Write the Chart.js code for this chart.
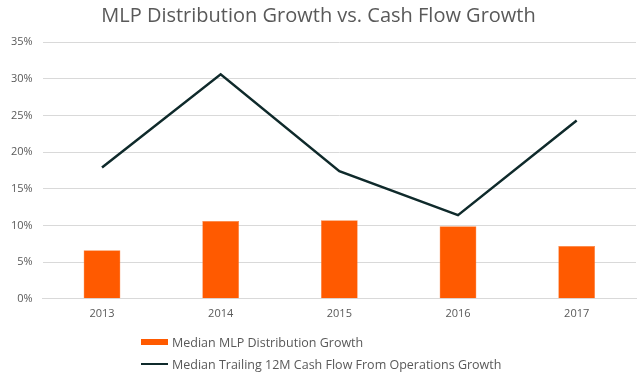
<!DOCTYPE html>
<html>
<head>
<meta charset="utf-8">
<script src="https://cdn.jsdelivr.net/npm/chart.js@4/dist/chart.umd.min.js"></script>
<style>
  html, body { margin: 0; padding: 0; background: #fff; }
  #wrap { position: relative; width: 640px; height: 372px; }
  #legend { position: absolute; left: 141px; top: 331px; font: 12.5px 'Open Sans', sans-serif; color: #595959; }
  .item { display: flex; align-items: center; height: 22px; }
  .swatch { width: 27px; margin-right: 4px; }
</style>
</head>
<body>
<div id="wrap">
  <canvas id="chart" width="640" height="372"></canvas>
  <div id="legend"></div>
</div>
<script>
// Chart data
const years = ['2013', '2014', '2015', '2016', '2017'];
const distributionGrowth = [6.6, 10.6, 10.7, 9.9, 7.2];
const cashFlowGrowth = [17.9, 30.6, 17.4, 11.4, 24.3];
const yTicks = [0, 5, 10, 15, 20, 25, 30, 35];

const ORANGE = '#ff5a00';
const DARK = '#0f2a2b';
const TEXT = '#595959';
const GRID = '#d9d9d9';

const ctx = document.getElementById('chart').getContext('2d');

const chart = new Chart(ctx, {
  type: 'bar',
  data: {
    labels: years,
    datasets: [
      {
        type: 'line',
        label: 'Median Trailing 12M Cash Flow From Operations Growth',
        data: cashFlowGrowth,
        borderColor: DARK,
        borderWidth: 2.5,
        pointRadius: 0,
        tension: 0,
        order: 1
      },
      {
        label: 'Median MLP Distribution Growth',
        data: distributionGrowth,
        backgroundColor: ORANGE,
        borderColor: '#f5813f',
        borderWidth: 0.5,
        barPercentage: 1,
        categoryPercentage: 0.31,
        order: 2
      }
    ]
  },
  options: {
    responsive: false,
    animation: false,
    layout: { padding: { left: 1, right: 4, bottom: 44 } },
    plugins: {
      legend: { display: false },
      tooltip: { enabled: false },
      title: {
        display: true,
        text: 'MLP Distribution Growth vs. Cash Flow Growth',
        color: TEXT,
        font: { family: "'Open Sans', sans-serif", size: 20, weight: 'normal' },
        padding: { top: 4, bottom: 14 }
      }
    },
    scales: {
      x: {
        grid: { display: false, drawTicks: false },
        border: { color: GRID },
        ticks: {
          color: TEXT,
          padding: 8,
          font: { family: "'Open Sans', sans-serif", size: 11 }
        }
      },
      y: {
        min: 0,
        max: 35,
        afterBuildTicks: (axis) => { axis.ticks = yTicks.map(v => ({ value: v })); },
        grid: { color: GRID, drawTicks: false },
        border: { display: false },
        ticks: {
          color: TEXT,
          padding: 10,
          font: { family: "'Open Sans', sans-serif", size: 11 },
          callback: (v) => v + '%'
        }
      }
    }
  }
});

// Vertical legend, bar first then line
const legendEl = document.getElementById('legend');
[chart.data.datasets[1], chart.data.datasets[0]].forEach(ds => {
  const item = document.createElement('div');
  item.className = 'item';
  const sw = document.createElement('span');
  sw.className = 'swatch';
  if (ds.type === 'line') {
    sw.style.height = '2.5px';
    sw.style.background = ds.borderColor;
  } else {
    sw.style.height = '6px';
    sw.style.background = ds.backgroundColor;
  }
  const txt = document.createElement('span');
  txt.textContent = ds.label;
  item.appendChild(sw);
  item.appendChild(txt);
  legendEl.appendChild(item);
});
</script>
</body>
</html>
